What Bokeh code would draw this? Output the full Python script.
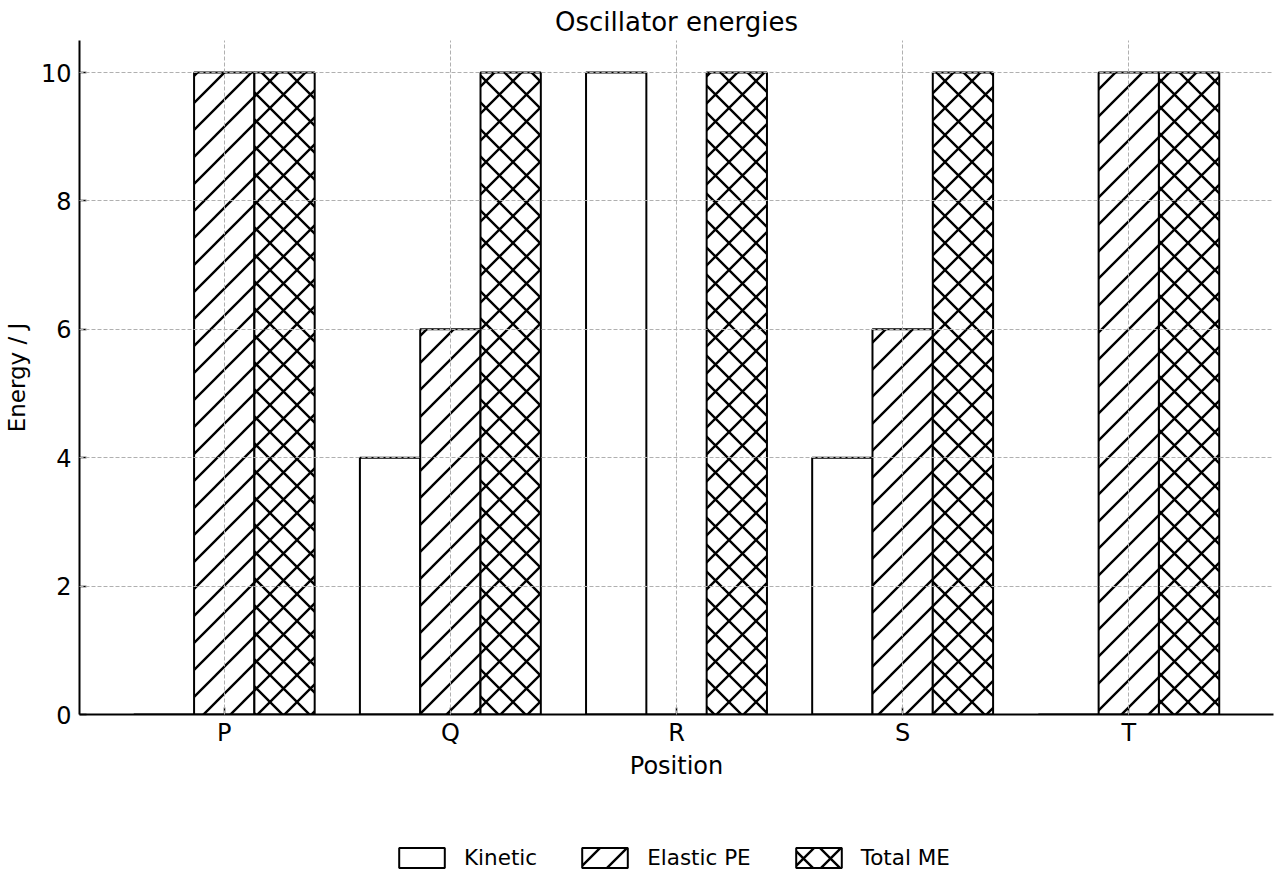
import base64
from bokeh.plotting import figure
from bokeh.layouts import column
from bokeh.models import (FactorRange, Legend, LegendItem, ColumnDataSource, FixedTicker,
                          ImageURLTexture)
from bokeh.transform import dodge
from bokeh.core.properties import value
from bokeh.embed import file_html
from bokeh.resources import INLINE

cats = ["P", "Q", "R", "S", "T"]
kinetic = [0, 4, 10, 4, 0]
elastic = [10, 6, 0, 6, 10]
total = [10, 10, 10, 10, 10]
series_names = ["Kinetic", "Elastic PE", "Total ME"]
y_ticks = [0, 2, 4, 6, 8, 10]

FONT = "DejaVu Sans"


def svg_tile(d):
    svg = ("<svg xmlns='http://www.w3.org/2000/svg' width='27' height='27' viewBox='0 0 27 27'>"
           f"<path d='{d}' stroke='black' stroke-width='2.4' fill='none'/></svg>")
    return "data:image/svg+xml;base64," + base64.b64encode(svg.encode()).decode()


FSLASH = svg_tile("M-27 27L27 -27M0 27L27 0M0 54L54 0")
XCROSS = svg_tile("M-27 27L27 -27M0 27L27 0M0 54L54 0M-27 0L27 54M0 0L27 27M0 -27L54 27")
extra = {
    "fslash": ImageURLTexture(url=FSLASH, repetition="repeat"),
    "xcross": ImageURLTexture(url=XCROSS, repetition="repeat"),
}

src = ColumnDataSource(dict(cat=cats, kinetic=kinetic, elastic=elastic, total=total))

p = figure(
    x_range=FactorRange(factors=cats, range_padding=0.056, range_padding_units="percent"),
    y_range=(0, 10.5),
    frame_width=1194, frame_height=674,
    min_border_left=79, min_border_right=7, min_border_top=40, min_border_bottom=80,
    output_backend="svg", toolbar_location=None,
    title="Oscillator energies",
)

bw = 0.8 / 3
cols = ["kinetic", "elastic", "total"]
offsets = [-bw, 0.0, bw]
hatches = [None, "fslash", "xcross"]


def bar_style(h):
    kw = dict(fill_color="white", line_color="black", line_width=2)
    if h is not None:
        kw.update(hatch_pattern=value(h), hatch_extra=extra, hatch_color="black",
                  hatch_weight=2, hatch_scale=27)
    return kw


renderers = []
for col, off, h in zip(cols, offsets, hatches):
    r = p.vbar(x=dodge("cat", off, range=p.x_range), top=col, width=bw, source=src, **bar_style(h))
    renderers.append(r)

p.title.text_font = FONT
p.title.text_font_size = "26px"
p.title.text_font_style = "normal"
p.title.align = "center"
p.title.text_color = "black"
p.title.standoff = 8

p.outline_line_color = None

for ax in (p.xaxis[0], p.yaxis[0]):
    ax.axis_line_color = "black"
    ax.axis_line_width = 2
    ax.major_tick_line_color = "black"
    ax.major_tick_line_width = 1.5
    ax.major_tick_in = 7
    ax.major_tick_out = 0
    ax.minor_tick_line_color = None
    ax.major_label_text_font = FONT
    ax.major_label_text_font_size = "24px"
    ax.major_label_text_color = "black"
    ax.axis_label_text_font = FONT
    ax.axis_label_text_font_style = "normal"
    ax.axis_label_text_color = "black"

p.xaxis.axis_label = "Position"
p.yaxis.axis_label = "Energy / J"
p.xaxis.axis_label_text_font_size = "24px"
p.yaxis.axis_label_text_font_size = "23px"
p.yaxis.ticker = FixedTicker(ticks=y_ticks)
p.xaxis.major_label_standoff = 4
p.yaxis.major_label_standoff = 8
p.xaxis.axis_label_standoff = 2
p.yaxis.axis_label_standoff = 8

for g in (p.xgrid[0], p.ygrid[0]):
    g.grid_line_color = "#b0b0b0"
    g.grid_line_width = 1
    g.grid_line_dash = "4 2"
    g.level = "annotation"

# legend strip below the chart (proxy glyphs sit outside its visible range)
lf = figure(frame_width=1280, frame_height=86, min_border=0,
            x_range=(0, 1), y_range=(0, 1), x_axis_type=None, y_axis_type=None,
            output_backend="svg", toolbar_location=None)
lf.outline_line_color = None
lf.grid.visible = False
proxies = [lf.vbar(x=[5], top=[1], width=0.1, **bar_style(h)) for h in hatches]

legend = Legend(
    items=[LegendItem(label=n, renderers=[r]) for n, r in zip(series_names, proxies)],
    orientation="horizontal", location=(393, 10),
    border_line_color=None, background_fill_alpha=0,
    label_text_font=FONT, label_text_font_size="21.5px", label_text_color="black",
    glyph_width=57, glyph_height=25, spacing=39, label_standoff=14,
    margin=0, padding=0,
)
lf.add_layout(legend)

layout = column(p, lf, spacing=0)
open("out.html", "w").write(file_html(layout, INLINE))
